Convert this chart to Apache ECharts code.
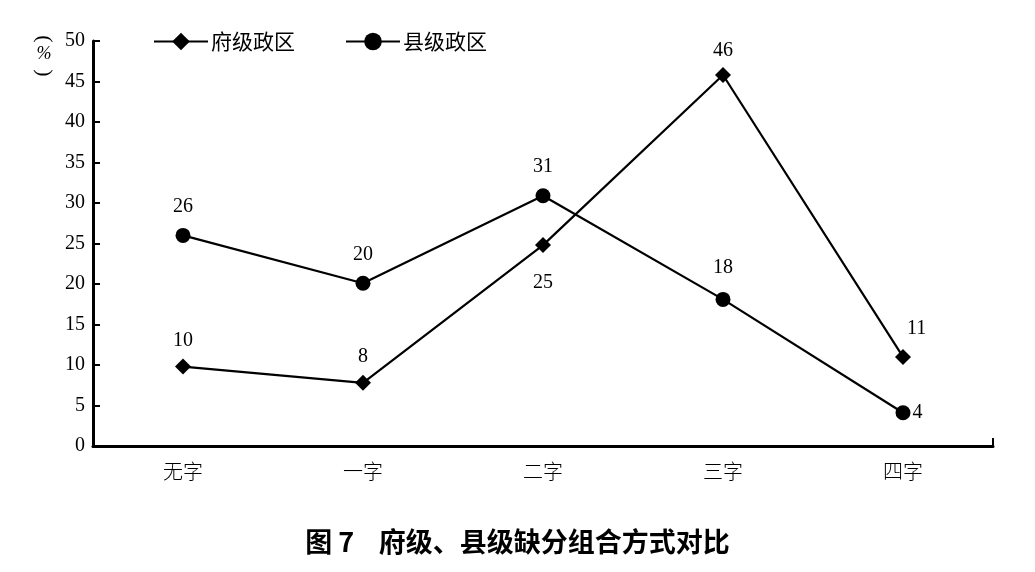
<!DOCTYPE html>
<html><head><meta charset="utf-8">
<script src="https://cdn.jsdelivr.net/npm/echarts@6/dist/echarts.min.js"></script>
<style>html,body{margin:0;padding:0;background:#fff}#c{width:1035px;height:572px}</style>
</head><body><div id="c"></div>
<script>
const categories = ['无字','一字','二字','三字','四字'];
const fuValues = [9.8, 7.8, 24.8, 45.8, 11.0];
const xianValues = [26.0, 20.1, 30.9, 18.1, 4.1];
const seriesNames = ['府级政区','县级政区'];
const titleText = '图 7    府级、县级缺分组合方式对比';
const unitParts = ['(','%',')'];

const serif = '"Liberation Serif","Noto Sans CJK SC",serif';
const fuLabelPos = ['top','top','bottom','top','right'];
const xianLabelPos = ['top','top','top','top','right'];

function mk(vals, pos, extra){
  return vals.map((v,i)=>{
    const o = {value:v, label:{position:pos[i]}};
    if (extra && extra[i]) Object.assign(o.label, extra[i]);
    return o;
  });
}
const fuExtra = [null,null,{distance:20},{distance:6},{offset:[-6,-28],distance:2}];
const xianExtra = [{distance:11},{distance:11},{distance:11},{distance:14},{distance:2}];

function parenGroup(txt, y){
  return {type:'group', x:44, y:y, rotation:-Math.PI/2,
    children:[{type:'text', x:0, y:0,
      style:{text:txt, font:'22px "Liberation Serif"', fill:'#000', align:'center', verticalAlign:'middle'}}]};
}

const chart = echarts.init(document.getElementById('c'));
chart.setOption({
  animation:false,
  backgroundColor:'#fff',
  title:{text:titleText,left:'center',top:523,
    textStyle:{fontFamily:'"Noto Sans CJK SC"',fontWeight:'bold',fontSize:27,color:'#000'}},
  graphic:{elements:[
    parenGroup(unitParts[0], 39),
    {type:'text',x:44,y:54,
     style:{text:unitParts[1],font:'italic 18px "Liberation Serif"',fill:'#000',align:'center',verticalAlign:'middle'}},
    parenGroup(unitParts[2], 73)
  ]},
  legend:{top:26,left:148,itemGap:50,itemWidth:54,itemHeight:22,
    textStyle:{fontFamily:'"Noto Sans CJK SC"',fontSize:21,color:'#000',padding:[0,0,0,-2]},
    data:seriesNames},
  grid:{left:93,right:42,top:41,bottom:126,containLabel:false,outerBoundsMode:'none'},
  xAxis:[{type:'category',data:categories,boundaryGap:true,
    axisLine:{lineStyle:{color:'#000',width:3}},
    axisTick:{show:false},
    axisLabel:{color:'#000',fontSize:20,margin:15,fontFamily:'"Noto Sans CJK SC"',fontWeight:300}},
    {type:'value',min:0,max:5,interval:5,position:'bottom',
     axisLine:{show:false},axisLabel:{show:false},splitLine:{show:false},
     axisTick:{show:true,inside:true,length:8,lineStyle:{color:'#000',width:2}}}],
  yAxis:{type:'value',min:0,max:50,interval:5,
    axisLine:{show:true,lineStyle:{color:'#000',width:3}},
    axisTick:{show:true,inside:true,length:7,lineStyle:{color:'#000',width:2}},
    splitLine:{show:false},
    axisLabel:{color:'#000',fontSize:20,fontFamily:serif,margin:8}},
  series:[
    {name:seriesNames[0],type:'line',data:mk(fuValues,fuLabelPos,fuExtra),
      symbol:'diamond',symbolSize:16,xAxisIndex:0,
      lineStyle:{color:'#000',width:2.2},itemStyle:{color:'#000'},
      label:{show:true,color:'#000',fontSize:20,fontFamily:serif,distance:8,
        formatter:p=>Math.round(p.value)}},
    {name:seriesNames[1],type:'line',data:mk(xianValues,xianLabelPos,xianExtra),
      symbol:'circle',symbolSize:15,xAxisIndex:0,
      lineStyle:{color:'#000',width:2.2},itemStyle:{color:'#000'},
      label:{show:true,color:'#000',fontSize:20,fontFamily:serif,distance:10,
        formatter:p=>Math.round(p.value)}}
  ]
});
</script></body></html>
